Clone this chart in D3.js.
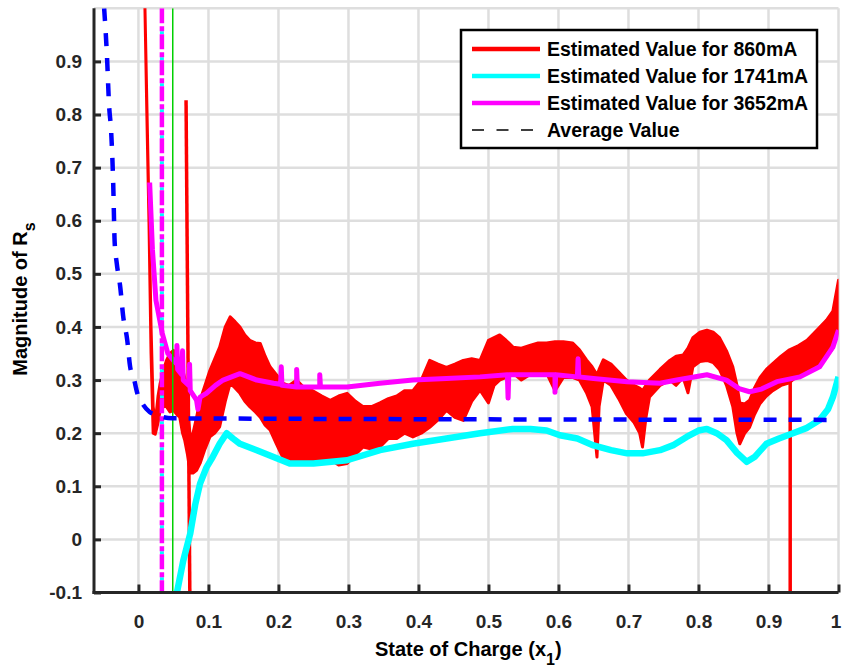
<!DOCTYPE html>
<html>
<head>
<meta charset="utf-8">
<script src="https://cdn.jsdelivr.net/npm/d3@7"></script>
<style>
  body { margin: 0; background: #fff; }
  svg { display: block; font-family: "Liberation Sans", Arial, sans-serif; font-weight: bold; }
  .grid line { stroke: #dedede; stroke-width: 2.5; }
  .axis path, .axis line { stroke: #262626; stroke-width: 3; }
  .axis text { fill: #262626; font-size: 19px; font-weight: bold; }
</style>
</head>
<body>
<script>
// tick values
const xTicks = [0, 0.1, 0.2, 0.3, 0.4, 0.5, 0.6, 0.7, 0.8, 0.9, 1];
const yTicks = [-0.1, 0, 0.1, 0.2, 0.3, 0.4, 0.5, 0.6, 0.7, 0.8, 0.9];

// 860mA estimate: noisy band, read as lower / upper envelope
const redX = [0.009, 0.012, 0.015, 0.018, 0.021, 0.024, 0.028, 0.031, 0.036, 0.04, 0.045, 0.05, 0.055, 0.059, 0.063,
  0.066, 0.07, 0.074, 0.078, 0.083, 0.088, 0.095, 0.102, 0.109, 0.116, 0.124, 0.131, 0.138, 0.145, 0.152, 0.159,
  0.167, 0.174, 0.181, 0.188, 0.197, 0.206, 0.215, 0.226, 0.237, 0.249, 0.262, 0.274, 0.286, 0.298, 0.31, 0.321,
  0.333, 0.345, 0.357, 0.369, 0.38, 0.392, 0.404, 0.416, 0.428, 0.44, 0.452, 0.464, 0.476, 0.488, 0.5, 0.508,
  0.516, 0.525, 0.535, 0.547, 0.559, 0.571, 0.583, 0.595, 0.607, 0.62, 0.63, 0.64, 0.648, 0.655, 0.658, 0.664,
  0.675, 0.686, 0.697, 0.708, 0.716, 0.72, 0.725, 0.73, 0.745, 0.759, 0.768, 0.778, 0.785, 0.792, 0.802, 0.812,
  0.821, 0.83, 0.84, 0.849, 0.855, 0.859, 0.866, 0.873, 0.88, 0.888, 0.897, 0.906, 0.918, 0.93, 0.943, 0.955,
  0.97, 0.983, 0.992, 1.0];
const redLo = [1.02, 0.8, 0.6, 0.35, 0.2, 0.198, 0.22, 0.243, 0.25, 0.25, 0.24, 0.243, 0.235, 0.23, 0.2,
  0.187, 0.16, 0.125, 0.125, 0.13, 0.143, 0.17, 0.193, 0.2, 0.212, 0.26, 0.294, 0.285, 0.275, 0.26, 0.25,
  0.24, 0.23, 0.215, 0.206, 0.18, 0.155, 0.15, 0.15, 0.15, 0.15, 0.145, 0.15, 0.14, 0.143, 0.16, 0.174,
  0.17, 0.174, 0.19, 0.19, 0.2, 0.193, 0.2, 0.211, 0.225, 0.243, 0.23, 0.224, 0.26, 0.281, 0.257, 0.29,
  0.3, 0.305, 0.313, 0.3, 0.31, 0.313, 0.313, 0.28, 0.305, 0.305, 0.3, 0.276, 0.25, 0.155, 0.25, 0.3,
  0.29, 0.265, 0.237, 0.22, 0.2, 0.174, 0.23, 0.268, 0.29, 0.3, 0.29, 0.305, 0.276, 0.325, 0.335, 0.337,
  0.333, 0.32, 0.29, 0.25, 0.2, 0.18, 0.2, 0.211, 0.235, 0.256, 0.27, 0.28, 0.29, 0.295, 0.31, 0.319,
  0.33, 0.343, 0.36, 0.394];
const redHi = [1.02, 0.82, 0.62, 0.4, 0.25, 0.22, 0.27, 0.294, 0.32, 0.337, 0.35, 0.356, 0.345, 0.337, 0.32,
  0.305, 0.25, 0.193, 0.2, 0.23, 0.262, 0.29, 0.318, 0.34, 0.362, 0.4, 0.419, 0.41, 0.4, 0.385, 0.375,
  0.37, 0.369, 0.345, 0.325, 0.31, 0.294, 0.29, 0.3, 0.285, 0.28, 0.27, 0.262, 0.27, 0.275, 0.26, 0.25,
  0.25, 0.257, 0.265, 0.27, 0.28, 0.28, 0.3, 0.337, 0.33, 0.324, 0.33, 0.337, 0.34, 0.337, 0.375, 0.38,
  0.385, 0.375, 0.362, 0.36, 0.365, 0.37, 0.37, 0.372, 0.372, 0.37, 0.357, 0.338, 0.325, 0.31, 0.32, 0.338,
  0.33, 0.315, 0.3, 0.29, 0.285, 0.28, 0.29, 0.3, 0.32, 0.337, 0.345, 0.347, 0.36, 0.38, 0.39, 0.394,
  0.39, 0.38, 0.355, 0.325, 0.29, 0.257, 0.255, 0.262, 0.285, 0.305, 0.32, 0.331, 0.345, 0.357, 0.365, 0.375,
  0.395, 0.413, 0.43, 0.488];
// 860mA spikes: top point and bottom point
const spikeTopX = [0.068, 0.931];
const spikeTopY = [0.827, 0.31];
const spikeBotX = [0.0735, 0.931];
const spikeBotY = [-0.12, -0.12];

// 1741mA estimate
const cyanX = [0.052, 0.064, 0.074, 0.081, 0.088, 0.097, 0.106, 0.116, 0.126, 0.135, 0.145, 0.169, 0.193, 0.216,
  0.25, 0.298, 0.345, 0.392, 0.44, 0.488, 0.535, 0.56, 0.583, 0.602, 0.627, 0.65, 0.675, 0.698, 0.72, 0.745,
  0.765, 0.783, 0.8, 0.812, 0.826, 0.84, 0.855, 0.869, 0.88, 0.897, 0.915, 0.935, 0.955, 0.973, 0.985, 0.992, 1.0];
const cyanY = [-0.12, -0.04, 0.011, 0.065, 0.105, 0.135, 0.155, 0.18, 0.2, 0.19, 0.18, 0.168, 0.155, 0.143,
  0.143, 0.149, 0.168, 0.18, 0.19, 0.2, 0.208, 0.208, 0.205, 0.196, 0.19, 0.177, 0.168, 0.162, 0.162, 0.168,
  0.178, 0.193, 0.205, 0.208, 0.2, 0.187, 0.163, 0.146, 0.155, 0.18, 0.19, 0.2, 0.21, 0.225, 0.245, 0.268, 0.306];

// 3652mA estimate (spikes kept as vertical excursions)
const magX = [0.016, 0.02, 0.025, 0.034, 0.042, 0.05, 0.055, 0.055, 0.056, 0.062, 0.063, 0.064, 0.072, 0.073,
  0.074, 0.083, 0.085, 0.088, 0.097, 0.11, 0.121, 0.145, 0.169, 0.193, 0.203, 0.204, 0.205, 0.226, 0.226, 0.227,
  0.249, 0.259, 0.259, 0.26, 0.298, 0.345, 0.392, 0.44, 0.488, 0.527, 0.528, 0.529, 0.535, 0.583, 0.595, 0.595,
  0.596, 0.627, 0.628, 0.629, 0.65, 0.698, 0.745, 0.769, 0.812, 0.84, 0.858, 0.873, 0.89, 0.912, 0.945, 0.973,
  0.992, 1.0];
const magY = [0.672, 0.545, 0.45, 0.388, 0.35, 0.337, 0.33, 0.365, 0.32, 0.31, 0.355, 0.3, 0.29, 0.33,
  0.28, 0.262, 0.245, 0.268, 0.275, 0.29, 0.3, 0.312, 0.3, 0.294, 0.292, 0.325, 0.29, 0.287, 0.32, 0.287,
  0.287, 0.287, 0.31, 0.287, 0.287, 0.294, 0.3, 0.303, 0.306, 0.31, 0.266, 0.31, 0.31, 0.31, 0.31, 0.277,
  0.31, 0.306, 0.34, 0.306, 0.303, 0.297, 0.294, 0.3, 0.31, 0.3, 0.284, 0.278, 0.283, 0.297, 0.306, 0.325,
  0.362, 0.394];

// average value
const avgX = [-0.049, -0.045, -0.042, -0.039, -0.036, -0.034, -0.031, -0.026, -0.022, -0.016, -0.012, -0.006,
  -0.002, 0.006, 0.016, 0.026, 0.048, 1.0];
const avgY = [1.0, 0.911, 0.818, 0.768, 0.667, 0.56, 0.52, 0.475, 0.422, 0.375, 0.326, 0.3,
  0.277, 0.255, 0.24, 0.234, 0.228, 0.225];

// vertical marker lines
const markerX = [0.0335, 0.049];

const legendLabels = ['Estimated Value for 860mA', 'Estimated Value for 1741mA',
  'Estimated Value for 3652mA', 'Average Value'];

const W = 842, H = 668;
const margin = { top: 8.3, right: 3.5, bottom: 75.5, left: 94 };
const iw = W - margin.left - margin.right;
const ih = H - margin.top - margin.bottom;

const svg = d3.select('body').append('svg').attr('width', W).attr('height', H);
const g = svg.append('g').attr('transform', `translate(${margin.left},${margin.top})`);

const x = d3.scaleLinear().domain([-0.0635, 1]).range([0, iw]);
const y = d3.scaleLinear().domain([-0.1, 1]).range([ih, 0]);

// grid
g.append('g').attr('class', 'grid')
  .selectAll('line.gx').data(xTicks).join('line')
  .attr('x1', d => x(d)).attr('x2', d => x(d)).attr('y1', 0).attr('y2', ih);
g.append('g').attr('class', 'grid')
  .selectAll('line.gy').data(yTicks.concat([1])).join('line')
  .attr('x1', 0).attr('x2', iw).attr('y1', d => y(d)).attr('y2', d => y(d));

svg.append('clipPath').attr('id', 'clip')
  .append('rect').attr('width', iw).attr('height', ih);
const plot = g.append('g').attr('clip-path', 'url(#clip)');

// 860mA band
const redData = redX.map((v, i) => ({ x: v, lo: redLo[i], hi: redHi[i] }));
const redArea = d3.area()
  .x(d => x(d.x))
  .y0(d => y(d.lo))
  .y1(d => y(d.hi));
plot.append('path')
  .attr('d', redArea(redData))
  .attr('fill', '#ff0000')
  .attr('stroke', '#ff0000')
  .attr('stroke-width', 3)
  .attr('stroke-linejoin', 'round');
plot.selectAll('line.spike').data(spikeTopX).join('line')
  .attr('x1', d => x(d)).attr('y1', (d, i) => y(spikeTopY[i]))
  .attr('x2', (d, i) => x(spikeBotX[i])).attr('y2', (d, i) => y(spikeBotY[i]))
  .attr('stroke', '#ff0000').attr('stroke-width', 3.5);

const line = d3.line().x(d => x(d[0])).y(d => y(d[1]));

// 1741mA
plot.append('path')
  .attr('d', line(cyanX.map((v, i) => [v, cyanY[i]])))
  .attr('fill', 'none').attr('stroke', '#00ffff').attr('stroke-width', 6.5)
  .attr('stroke-linejoin', 'round');

// 3652mA
plot.append('path')
  .attr('d', line(magX.map((v, i) => [v, magY[i]])))
  .attr('fill', 'none').attr('stroke', '#ff00ff').attr('stroke-width', 5)
  .attr('stroke-linejoin', 'round');

// vertical markers
plot.append('line')
  .attr('x1', x(markerX[0])).attr('x2', x(markerX[0])).attr('y1', 0).attr('y2', ih)
  .attr('stroke', '#00ffff').attr('stroke-width', 4)
  .attr('stroke-dasharray', '3,23').attr('stroke-dashoffset', -23);
plot.append('line')
  .attr('x1', x(markerX[0])).attr('x2', x(markerX[0])).attr('y1', 0).attr('y2', ih)
  .attr('stroke', '#ff00ff').attr('stroke-width', 4.5)
  .attr('stroke-dasharray', '15,3,5,3');
plot.append('line')
  .attr('x1', x(markerX[1])).attr('x2', x(markerX[1])).attr('y1', 0).attr('y2', ih)
  .attr('stroke', '#00d000').attr('stroke-width', 1.5);

// average
plot.append('path')
  .attr('d', d3.line().curve(d3.curveMonotoneX).x(d => x(d[0])).y(d => y(d[1]))(avgX.map((v, i) => [v, avgY[i]])))
  .attr('fill', 'none').attr('stroke', '#0000ff').attr('stroke-width', 4.5)
  .attr('stroke-dasharray', '13,12');

// axes
const fmt = d => String(+d.toFixed(1));
const xAxis = g.append('g').attr('class', 'axis')
  .attr('transform', `translate(0,${ih})`)
  .call(d3.axisBottom(x).tickValues(xTicks).tickSize(-8).tickSizeOuter(0).tickPadding(22).tickFormat(fmt));
const yAxis = g.append('g').attr('class', 'axis')
  .call(d3.axisLeft(y).tickValues(yTicks).tickSize(-7).tickSizeOuter(0).tickPadding(12).tickFormat(fmt));
xAxis.select('.domain').attr('d', `M-1.5,0H${iw}`);
yAxis.select('.domain').attr('d', `M0,0V${ih + 1.5}`);
xAxis.selectAll('.tick text').filter(d => d === 1).attr('dx', -3);

// axis labels
const xl = svg.append('text')
  .attr('x', margin.left + iw / 2 + 2).attr('y', 656)
  .attr('text-anchor', 'middle').attr('font-size', 20).attr('fill', '#000');
xl.append('tspan').text('State of Charge (x');
xl.append('tspan').text('1').attr('font-size', 16).attr('dy', 9);
xl.append('tspan').text(')').attr('dy', -9);

const yl = svg.append('text')
  .attr('transform', 'translate(27,299) rotate(-90)')
  .attr('text-anchor', 'middle').attr('font-size', 20).attr('fill', '#000');
yl.append('tspan').text('Magnitude of R');
yl.append('tspan').text('s').attr('font-size', 16).attr('dy', 8);

// legend
const legend = svg.append('g');
legend.append('rect')
  .attr('x', 461).attr('y', 30).attr('width', 356).attr('height', 118)
  .attr('fill', '#fff').attr('stroke', '#000').attr('stroke-width', 2.5);
const legColors = ['#ff0000', '#00ffff', '#ff00ff', '#000'];
const rows = legend.selectAll('g.row').data(legendLabels).join('g')
  .attr('transform', (d, i) => `translate(0,${49 + i * 27})`);
rows.append('line')
  .attr('x1', 472).attr('x2', 540).attr('y1', 0).attr('y2', 0)
  .attr('stroke', (d, i) => legColors[i])
  .attr('stroke-width', (d, i) => (i < 3 ? 4.5 : 1.5))
  .attr('stroke-dasharray', (d, i) => (i < 3 ? null : '12,12.5'));
rows.append('text')
  .attr('x', 547).attr('y', 7).attr('font-size', 19.5).attr('fill', '#000')
  .text(d => d);
</script>
</body>
</html>
